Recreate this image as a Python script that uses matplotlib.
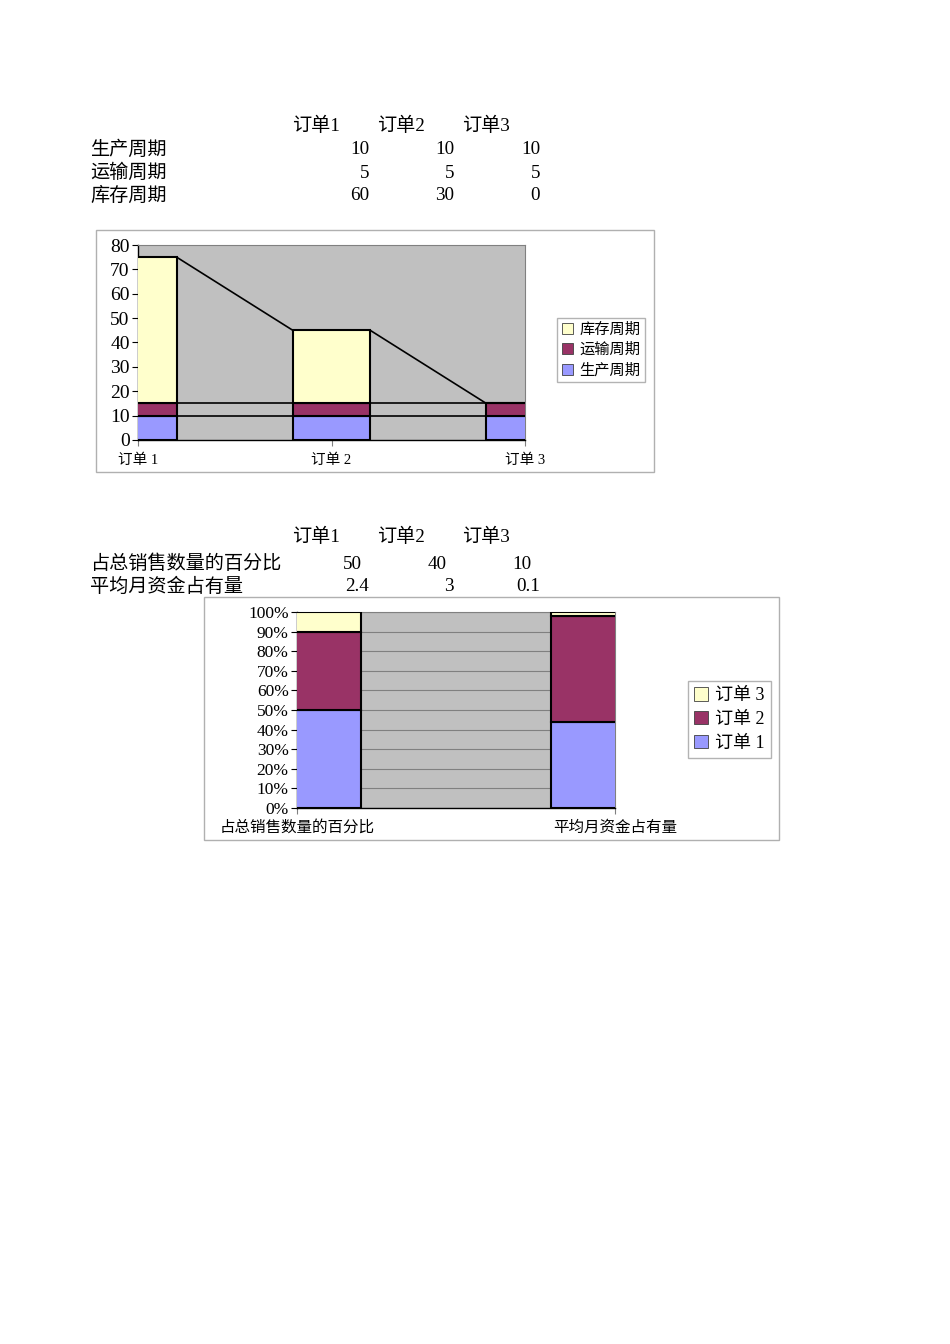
import matplotlib
matplotlib.use("Agg")
import matplotlib.pyplot as plt
from matplotlib.patches import Rectangle, Patch
import numpy as np

plt.rcParams['font.family'] = ['Liberation Serif', 'Noto Sans CJK SC', 'DejaVu Sans']

# ---------------- data ----------------
order_names = ['订单1', '订单2', '订单3']
order_axis_labels = ['订单 1', '订单 2', '订单 3']
cycle_names = ['生产周期', '运输周期', '库存周期']
production = [10, 10, 10]
transport = [5, 5, 5]
inventory = [60, 30, 0]

metric_names = ['占总销售数量的百分比', '平均月资金占有量']
sales_pct = [50, 40, 10]
avg_capital = [2.4, 3, 0.1]
capital_labels = ['2.4', '3', '0.1']

y1_ticks = [0, 10, 20, 30, 40, 50, 60, 70, 80]
y2_ticks = [0, 10, 20, 30, 40, 50, 60, 70, 80, 90, 100]

C_YEL = '#FFFFCC'
C_MAR = '#993366'
C_BLU = '#9999FF'
C_BG = '#C0C0C0'

W, H = 950, 1344
fig = plt.figure(figsize=(W / 100, H / 100), dpi=100)
fig.patch.set_facecolor('white')


def fx(px):
    return px / W


def fy(py):
    return 1 - py / H


def ftext(px, py, s, **kw):
    fig.text(fx(px), fy(py + 2), s, va='center', **kw)


def frame(x0, y0, x1, y1):
    fig.patches.append(Rectangle((fx(x0), fy(y1)), fx(x1) - fx(x0), fy(y0) - fy(y1),
                                 transform=fig.transFigure, fill=False,
                                 edgecolor='#B0B0B0', linewidth=1.0))


def axes_px(x0, y0, x1, y1):
    return fig.add_axes([fx(x0), fy(y1), fx(x1) - fx(x0), fy(y0) - fy(y1)])


TFS = 13.8
# ---------------- table 1 ----------------
hdr_x = [316, 401, 486]
val_right = [369, 454, 540]
for x, s in zip(hdr_x, order_names):
    ftext(x, 124, s, ha='center', fontsize=TFS)
rows1 = [production, transport, inventory]
rows1_y = [148, 171, 194]
for name, vals, y in zip(cycle_names, rows1, rows1_y):
    ftext(90, y, name, ha='left', fontsize=TFS)
    for x, v in zip(val_right, vals):
        ftext(x, y, str(v), ha='right', fontsize=TFS)

# ---------------- chart 1 ----------------
frame(96, 230, 654, 472)
ax1 = axes_px(138, 245, 525, 440)
ax1.set_facecolor(C_BG)
x = np.arange(len(order_names))
bw = 0.4
series1 = [production, transport, inventory]
colors1 = [C_BLU, C_MAR, C_YEL]
bottom = np.zeros(len(x))
tops = []
for vals, c in zip(series1, colors1):
    vals = np.array(vals, dtype=float)
    ax1.bar(x, vals, bw, bottom=bottom, color=c, edgecolor='black', linewidth=1.5, zorder=3)
    bottom = bottom + vals
    tops.append(bottom.copy())
# series lines
for top in tops:
    for i in range(len(x) - 1):
        ax1.plot([x[i] + bw / 2, x[i + 1] - bw / 2], [top[i], top[i + 1]],
                 color='black', linewidth=1.2, zorder=2)
ax1.set_xlim(0, len(x) - 1)
ax1.set_ylim(0, 80)
ax1.set_yticks(y1_ticks)
ax1.set_yticklabels([str(t) for t in y1_ticks], fontsize=14)
ax1.set_xticks(x)
ax1.set_xticklabels(order_axis_labels, fontsize=10.5)
ax1.tick_params(axis='y', length=4, width=0.8, pad=2, color='black')
ax1.tick_params(axis='x', length=4, width=0.8, pad=6, color='#808080')
for s in ['top', 'right']:
    ax1.spines[s].set_color('#808080')
for s in ['left', 'bottom']:
    ax1.spines[s].set_color('black')
    ax1.spines[s].set_linewidth(1.0)

handles1 = [Patch(facecolor=c, edgecolor='#404040', linewidth=0.6) for c in colors1][::-1]
fig.legend(handles1, cycle_names[::-1], loc='upper left',
           bbox_to_anchor=(fx(557), fy(318)), fontsize=11, frameon=True,
           fancybox=False, edgecolor='#A0A0A0', borderpad=0.3, labelspacing=0.4,
           handlelength=0.75, handleheight=0.75, handletextpad=0.4, borderaxespad=0)

# ---------------- table 2 ----------------
for xh, s in zip(hdr_x, order_names):
    ftext(xh, 535, s, ha='center', fontsize=TFS)
ftext(90, 562, metric_names[0], ha='left', fontsize=TFS)
ftext(90, 585, metric_names[1], ha='left', fontsize=TFS)
sales_cx = [352, 437, 522]
for xc, v in zip(sales_cx, sales_pct):
    ftext(xc, 562, str(v), ha='center', fontsize=TFS)
for xr, s in zip(val_right, capital_labels):
    ftext(xr, 585, s, ha='right', fontsize=TFS)

# ---------------- chart 2 ----------------
frame(204, 597, 779, 840)
ax2 = axes_px(297, 612, 615, 808)
ax2.set_facecolor(C_BG)
data2 = np.array([sales_pct, avg_capital], dtype=float)  # rows: metric, cols: order
pct2 = data2 / data2.sum(axis=1, keepdims=True) * 100
x2 = np.arange(len(metric_names))
colors2 = [C_BLU, C_MAR, C_YEL]
bottom2 = np.zeros(len(x2))
for j in range(len(order_names)):
    ax2.bar(x2, pct2[:, j], bw, bottom=bottom2, color=colors2[j], edgecolor='black',
            linewidth=1.5, zorder=3)
    bottom2 = bottom2 + pct2[:, j]
ax2.set_xlim(0, len(x2) - 1)
ax2.set_ylim(0, 100)
ax2.set_yticks(y2_ticks)
ax2.set_yticklabels([f'{t}%' for t in y2_ticks], fontsize=12.5)
ax2.yaxis.grid(True, color='#808080', linewidth=0.8, zorder=1)
ax2.set_axisbelow(True)
ax2.set_xticks(x2)
ax2.set_xticklabels(metric_names, fontsize=11.2)
ax2.tick_params(axis='y', length=4, width=0.8, pad=2, color='black')
ax2.tick_params(axis='x', length=4, width=0.8, pad=4.5, color='#808080')
for s in ['top', 'right']:
    ax2.spines[s].set_color('#808080')
for s in ['left', 'bottom']:
    ax2.spines[s].set_color('black')
    ax2.spines[s].set_linewidth(1.0)

handles2 = [Patch(facecolor=c, edgecolor='#404040', linewidth=0.6) for c in colors2][::-1]
labels2 = order_axis_labels[::-1]
fig.legend(handles2, labels2, loc='upper left',
           bbox_to_anchor=(fx(688), fy(681)), fontsize=13, frameon=True,
           fancybox=False, edgecolor='#A0A0A0', borderpad=0.35, labelspacing=0.38,
           handlelength=0.75, handleheight=0.75, handletextpad=0.4, borderaxespad=0)

fig.savefig('out.png', dpi=100, facecolor='white')
